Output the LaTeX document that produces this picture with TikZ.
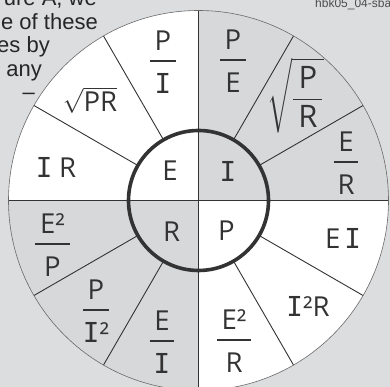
\documentclass[tikz,border=0pt]{standalone}
\usepackage{amsmath}
\usepackage{fontspec}
\usepackage{tikz}
\setmainfont{Liberation Sans}
\newfontfamily\wheelfont{Open Sans}
\newfontfamily\slabfont{DejaVu Sans Mono}
\definecolor{bggray}{HTML}{DCDDDF}
\definecolor{wedgegray}{HTML}{D7D8DA}
\definecolor{ink}{HTML}{333333}
\definecolor{rimgray}{HTML}{6A6A6A}
\newcommand{\Iv}{{\slabfont I}}
\newcommand{\frc}[2]{$\genfrac{}{}{1.7pt}{0}{\text{\,#1\,}}{\text{\rule{0pt}{0.98em}#2}}$}
\tikzset{
  spoke/.style={draw=ink,line width=0.9pt},
  hub/.style={draw=ink,line width=3.6pt},
  rim/.style={draw=rimgray,line width=0.6pt},
  wlabel/.style={text=ink,font=\wheelfont\fontsize{27.5}{32}\selectfont,inner sep=0pt},
  sidetext/.style={text=black!85,font=\fontsize{22}{23}\selectfont,inner sep=0pt},
  tagtext/.style={text=black!70,font=\fontsize{12}{14}\selectfont,inner sep=0pt}
}

\begin{document}
\begin{tikzpicture}[x=1pt,y=1pt]
  \path[use as bounding box,fill=bggray] (-198.5,-186.5) rectangle (191.5,200.5);
  \clip (-198.5,-186.5) rectangle (191.5,200.5);
  % quadrants
  \fill[wedgegray] (0,0) circle[radius=190];
  \fill[white] (0,0) -- (90:190) arc[start angle=90,end angle=180,radius=190] -- cycle;
  \fill[white] (0,0) -- (270:190) arc[start angle=270,end angle=360,radius=190] -- cycle;
  % spokes and rings
  \foreach \a in {30,60,120,150,210,240,300,330}
    \draw[spoke] (\a:70) -- (\a:190);
  \draw[spoke] (180:190) -- (0:190);
  \draw[spoke] (270:190) -- (90:190);
  \draw[hub] (0,0) circle[radius=70];
  \draw[rim] (0,0) circle[radius=190];

  % hub letters
  \node[wlabel] (hubE) at (-28.5,29.5) {E};
  \node[wlabel] (hubI) at (29.5,29.5) {\Iv};
  \node[wlabel] (hubR) at (-27,-31.5) {R};
  \node[wlabel] (hubP) at (28,-30.5) {P};

  % outer ring, E quadrant
  \node[wlabel] (eqPI) at (-35.5,138.5) {\frc{P}{\Iv}};
  \node[wlabel] (eqPR) at (-108.5,100.5) {$\sqrt{\text{PR}}$};
  \node[wlabel] (eqIR) at (-142.5,33.5) {\Iv\hspace{0.25em}R};
  % outer ring, I quadrant
  \node[wlabel] (iqPE) at (34.5,139.5) {\frc{P}{E}};
  \node[wlabel,font=\wheelfont\fontsize{31}{36}\selectfont] (iqPR) at (97,105)
    {$\sqrt{\genfrac{}{}{1.7pt}{0}{\text{\,P\,}}{\text{R}}}$};
  \node[wlabel] (iqER) at (147.5,37.5) {\frc{E}{R}};
  % outer ring, P quadrant
  \node[wlabel] (pqEI) at (144.5,-37.5) {E\hspace{0.15em}\Iv};
  \node[wlabel] (pqIR) at (109.5,-105.5) {\Iv²R};
  \node[wlabel] (pqER) at (35.5,-140.5) {\frc{E²}{R}};
  % outer ring, R quadrant
  \node[wlabel] (rqEI) at (-36.5,-141.5) {\frc{E}{\Iv}};
  \node[wlabel] (rqPI) at (-102.5,-110.5) {\frc{P}{\Iv²}};
  \node[wlabel] (rqEP) at (-146,-44.5) {\frc{E²}{P}};

  % cropped caption text
  \node[sidetext,anchor=base east] (cap1) at (-101.5,194.5) {ure A, we};
  \node[sidetext,anchor=base east] (cap2) at (-100.5,171) {e of these};
  \node[sidetext,anchor=base east] (cap3) at (-148.5,147.5) {es by};
  \node[sidetext,anchor=base east] (cap4) at (-156.5,124) {any};
  \node[sidetext,anchor=base east] (cap5) at (-163.5,100.5) {–};
  \node[tagtext,anchor=base west] (tag) at (116.5,192.5) {hbk05\_04-sba};
\end{tikzpicture}
\end{document}
